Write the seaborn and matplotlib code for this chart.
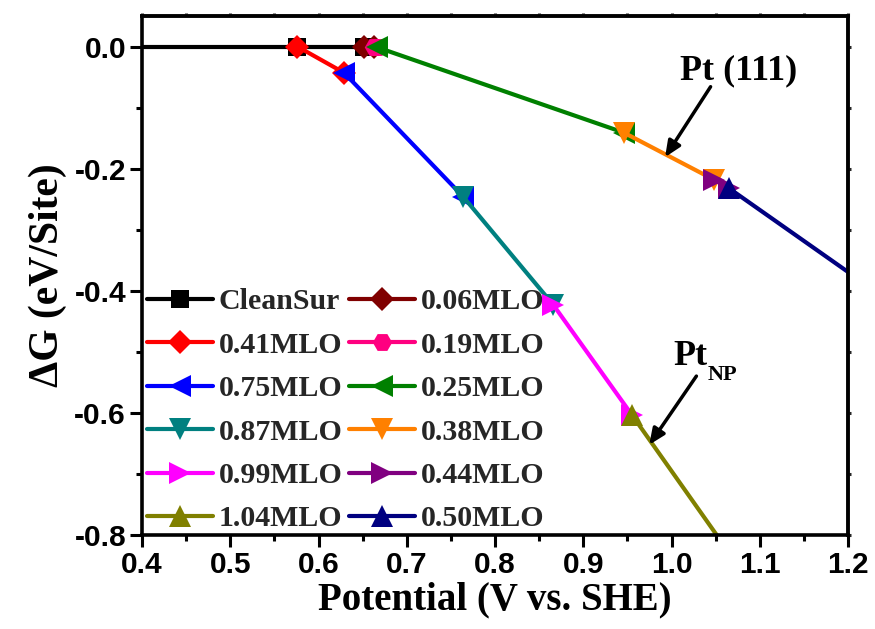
import matplotlib
matplotlib.use("Agg")
import matplotlib.pyplot as plt
import seaborn as sns
from matplotlib.ticker import MultipleLocator

# ---------------- data ----------------
labels = ["CleanSur", "0.41MLO", "0.75MLO", "0.87MLO", "0.99MLO", "1.04MLO",
          "0.06MLO", "0.19MLO", "0.25MLO", "0.38MLO", "0.44MLO", "0.50MLO"]

x_clean = [0.30, 0.576, 0.651]
y_clean = [0.0, 0.0, 0.0]
x_041 = [0.576, 0.629]
y_041 = [0.0, -0.043]
x_075 = [0.629, 0.764]
y_075 = [-0.043, -0.246]
x_087 = [0.764, 0.866]
y_087 = [-0.246, -0.423]
x_099 = [0.866, 0.955]
y_099 = [-0.423, -0.603]
x_104 = [0.955, 1.10]
y_104 = [-0.603, -0.90]
x_006 = [0.651, 0.663]
y_006 = [0.0, 0.0]
x_019 = [0.663, 0.666]
y_019 = [0.0, -0.001]
x_025 = [0.666, 0.946]
y_025 = [-0.001, -0.141]
x_038 = [0.946, 1.048]
y_038 = [-0.141, -0.218]
x_044 = [1.048, 1.065]
y_044 = [-0.218, -0.232]
x_050 = [1.065, 1.25]
y_050 = [-0.232, -0.42]

xs = [x_clean, x_041, x_075, x_087, x_099, x_104, x_006, x_019, x_025, x_038, x_044, x_050]
ys = [y_clean, y_041, y_075, y_087, y_099, y_104, y_006, y_019, y_025, y_038, y_044, y_050]

colors = ["#000000", "#FF0000", "#0000FF", "#008080", "#FF00FF", "#808000",
          "#800000", "#FF0080", "#008000", "#FF8000", "#800080", "#000080"]
markers = ["s", "D", "<", "v", ">", "^", "D", "H", "<", "v", ">", "^"]
msizes = [13, 12.5, 16.5, 16.5, 16.5, 16.5, 12.5, 14, 16.5, 16.5, 16.5, 16.5]

# ---------------- style ----------------
sns.set_theme(style="ticks")
plt.rcParams["font.family"] = ["Liberation Sans", "DejaVu Sans"]

fig = plt.figure(figsize=(8.75, 6.29), dpi=100)
ax = fig.add_axes([142 / 875, 1 - 535 / 629, (848 - 142) / 875, (535 - 16) / 629])

for x, y, c, m, ms, lab in zip(xs, ys, colors, markers, msizes, labels):
    sns.lineplot(x=x, y=y, ax=ax, color=c, marker=m, markersize=ms,
                 markeredgewidth=0, linewidth=3, sort=False, label=lab,
                 estimator=None, clip_on=True)

ax.set_xlim(0.4, 1.2)
ax.set_ylim(-0.8, 0.05)
ax.xaxis.set_major_locator(MultipleLocator(0.1))
ax.xaxis.set_minor_locator(MultipleLocator(0.05))
ax.yaxis.set_major_locator(MultipleLocator(0.2))
ax.yaxis.set_minor_locator(MultipleLocator(0.1))
ax.xaxis.set_major_formatter(matplotlib.ticker.FormatStrFormatter("%.1f"))
ax.yaxis.set_major_formatter(matplotlib.ticker.FormatStrFormatter("%.1f"))

for s in ax.spines.values():
    s.set_linewidth(2.6)
    s.set_color("black")
ax.tick_params(which="major", direction="out", length=8.5, width=2.2,
               color="black", labelsize=21.5, pad=3)
ax.tick_params(which="minor", direction="out", length=4.5, width=2.2, color="black")
for t in ax.get_xticklabels() + ax.get_yticklabels():
    t.set_fontweight("bold")
    t.set_color("black")

# mirrored short ticks on top/right
sx = ax.secondary_xaxis("top")
sx.xaxis.set_major_locator(MultipleLocator(0.1))
sx.xaxis.set_minor_locator(MultipleLocator(0.05))
sx.tick_params(which="both", direction="out", length=2.5, width=2.2, labeltop=False)
sx.spines["top"].set_linewidth(2.6)
sy = ax.secondary_yaxis("right")
sy.yaxis.set_major_locator(MultipleLocator(0.2))
sy.yaxis.set_minor_locator(MultipleLocator(0.1))
sy.tick_params(which="both", direction="out", length=2.5, width=2.2, labelright=False)
sy.spines["right"].set_linewidth(2.6)

serif = ["Liberation Serif", "DejaVu Serif"]
ax.set_xlabel("Potential (V vs. SHE)", fontsize=28, fontweight="bold",
              family=serif, labelpad=2, color="black")
ax.set_ylabel("ΔG (eV/Site)", fontsize=30, fontweight="bold",
              family=serif, labelpad=5, color="black")

# legend
h, l = ax.get_legend_handles_labels()
leg = ax.legend(h, l, ncol=2, loc="lower left", bbox_to_anchor=(0.007, 0.005),
                frameon=False, borderaxespad=0, borderpad=0,
                handlelength=2.2, handletextpad=0.2, columnspacing=0.23,
                labelspacing=0.55,
                prop={"family": serif, "weight": "bold", "size": 21.5})

# annotations
ax.text(1.076, -0.054, "Pt (111)", fontsize=26, fontweight="bold",
        family=serif, ha="center", va="baseline", color="black")
ax.annotate("", xy=(0.991, -0.185), xytext=(1.046, -0.062),
            arrowprops=dict(arrowstyle="-|>,head_length=0.8,head_width=0.35",
                            color="black", lw=2.5))
ax.text(1.002, -0.521, "Pt", fontsize=26, fontweight="bold",
        family=serif, ha="left", va="baseline", color="black")
ax.text(1.041, -0.546, "NP", fontsize=16, fontweight="bold",
        family=serif, ha="left", va="baseline", color="black")
ax.annotate("", xy=(0.973, -0.656), xytext=(1.030, -0.536),
            arrowprops=dict(arrowstyle="-|>,head_length=0.8,head_width=0.35",
                            color="black", lw=2.5))

fig.savefig("out.png", dpi=100)
